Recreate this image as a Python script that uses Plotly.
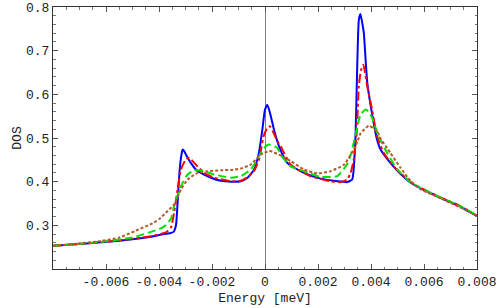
import plotly.graph_objects as go

# ---- data ----
blue_E = [-0.008, -0.0073, -0.0062, -0.005, -0.0043, -0.0039, -0.0036, -0.00345, -0.00336, -0.0033,
          -0.00323, -0.00317, -0.00311, -0.00305, -0.00299, -0.0028, -0.00261, -0.00242, -0.00204,
          -0.00167, -0.00129, -0.00092, -0.00066, -0.00041, -0.00023, -0.0001, 0.0, 0.00009, 0.00019,
          0.00034, 0.00053, 0.00084, 0.00147, 0.0021, 0.00273, 0.0031, 0.00329, 0.00335, 0.00338,
          0.00342, 0.00348, 0.00354, 0.0036, 0.00368, 0.00373, 0.00386, 0.0041, 0.00423, 0.00436,
          0.00473, 0.00511, 0.00549, 0.00586, 0.00662, 0.00737, 0.008]
blue_D = [0.253, 0.256, 0.261, 0.268, 0.274, 0.279, 0.282, 0.285, 0.30, 0.35,
          0.42, 0.455, 0.4735, 0.47, 0.463, 0.443, 0.428, 0.42, 0.409,
          0.402, 0.400, 0.401, 0.409, 0.428, 0.466, 0.519, 0.565, 0.5756, 0.557,
          0.519, 0.481, 0.443, 0.420, 0.407, 0.401, 0.399, 0.405, 0.43, 0.46,
          0.512, 0.664, 0.77, 0.784, 0.76, 0.74, 0.626, 0.535, 0.496, 0.4735,
          0.443, 0.418, 0.398, 0.385, 0.363, 0.343, 0.321]

red_E = [-0.008, -0.0073, -0.0062, -0.005, -0.0043, -0.0039, -0.00374, -0.00355, -0.00343, -0.0033,
         -0.00317, -0.00299, -0.00286, -0.00261, -0.0023, -0.00192, -0.00129, -0.00092, -0.00066,
         -0.00041, -0.00023, -0.00016, -0.00005, 0.00008, 0.00018, 0.0003, 0.00047, 0.00059, 0.00097,
         0.00172, 0.00247, 0.00285, 0.0031, 0.00323, 0.00335, 0.00346, 0.00354, 0.00362, 0.00371,
         0.00386, 0.00404, 0.00423, 0.00448, 0.00486, 0.00511, 0.00549, 0.00586, 0.00662, 0.00737, 0.008]
red_D = [0.253, 0.256, 0.261, 0.269, 0.275, 0.281, 0.284, 0.295, 0.329, 0.382,
         0.428, 0.451, 0.4545, 0.439, 0.42, 0.409, 0.401, 0.402, 0.41,
         0.425, 0.45, 0.47, 0.505, 0.522, 0.527, 0.515, 0.4925, 0.481, 0.439,
         0.4125, 0.401, 0.399, 0.405, 0.42, 0.4507, 0.512, 0.618, 0.655, 0.6675,
         0.618, 0.565, 0.504, 0.466, 0.435, 0.42, 0.399, 0.386, 0.364, 0.344, 0.322]

green_E = [-0.008, -0.0073, -0.0062, -0.005, -0.0043, -0.00393, -0.00374, -0.00355, -0.00343, -0.00317,
           -0.00292, -0.00267, -0.0023, -0.00192, -0.00129, -0.00092, -0.00054, -0.00041, -0.00016,
           0.00003, 0.00015, 0.00047, 0.00059, 0.00097, 0.00147, 0.0021, 0.00273, 0.00298, 0.0031,
           0.00323, 0.00335, 0.00348, 0.0036, 0.00379, 0.00392, 0.00404, 0.00429, 0.00461, 0.00499,
           0.00549, 0.00586, 0.00662, 0.00737, 0.008]
green_D = [0.253, 0.256, 0.262, 0.272, 0.285, 0.293, 0.301, 0.315, 0.344, 0.39,
           0.4165, 0.426, 0.424, 0.4165, 0.409, 0.4125, 0.428, 0.439, 0.465,
           0.481, 0.485, 0.477, 0.462, 0.435, 0.424, 0.411, 0.4125, 0.43, 0.44,
           0.46, 0.49, 0.525, 0.553, 0.565, 0.56, 0.546, 0.504, 0.466, 0.428,
           0.399, 0.386, 0.364, 0.344, 0.322]

brown_E = [-0.008, -0.0073, -0.0062, -0.0055, -0.0049, -0.0042, -0.00398, -0.00374, -0.00343, -0.00317,
           -0.00292, -0.00254, -0.00217, -0.00167, -0.00129, -0.00092, -0.00054, -0.00016, 0.00015,
           0.00021, 0.00059, 0.00097, 0.00147, 0.00197, 0.00247, 0.00298, 0.00335, 0.00354, 0.0036,
           0.00392, 0.00423, 0.00436, 0.00473, 0.00511, 0.00549, 0.00586, 0.00662, 0.00737, 0.008]
brown_D = [0.253, 0.257, 0.264, 0.272, 0.287, 0.306, 0.315, 0.329, 0.348, 0.382,
           0.405, 0.42, 0.424, 0.426, 0.427, 0.43, 0.439, 0.462, 0.47,
           0.47, 0.46, 0.447, 0.428, 0.419, 0.424, 0.439, 0.4735, 0.50, 0.51,
           0.528, 0.515, 0.499, 0.466, 0.432, 0.402, 0.383, 0.362, 0.341, 0.322]

x_tickvals = [-0.006, -0.004, -0.002, 0, 0.002, 0.004, 0.006, 0.008]
x_ticktext = ["-0.006", "-0.004", "-0.002", "0", "0.002", "0.004", "0.006", "0.008"]
y_tickvals = [0.3, 0.4, 0.5, 0.6, 0.7, 0.8]
y_ticktext = ["0.3", "0.4", "0.5", "0.6", "0.7", "0.8"]

FONT = "Liberation Mono"

fig = go.Figure()
series = [
    (blue_E, blue_D, "#0000FF", "solid"),
    (red_E, red_D, "#FF0000", "dashdot"),
    (green_E, green_D, "#00E000", "8px,4px"),
    (brown_E, brown_D, "#B35A2A", "3px,2px"),
]
for E, D, c, d in series:
    fig.add_trace(go.Scatter(x=E, y=D, mode="lines",
                             line=dict(color=c, width=2, dash=d, shape="spline", smoothing=0.5),
                             hoverinfo="skip"))

axis_common = dict(
    showgrid=False, showline=True, linecolor="#333333", linewidth=1, mirror="ticks",
    ticks="inside", ticklen=5, tickcolor="#555555", tickwidth=1, automargin=False,
    tickfont=dict(family=FONT, size=13, color="#222222"),
)
fig.update_xaxes(range=[-0.008, 0.008], tickvals=x_tickvals, ticktext=x_ticktext,
                 zeroline=True, zerolinecolor="#808080", zerolinewidth=1,
                 minor=dict(dtick=0.0005, tick0=0, ticks="inside", ticklen=2.5, tickcolor="#777777"),
                 title=dict(text="Energy [meV]", font=dict(family=FONT, size=13, color="#222222"), standoff=4),
                 **axis_common)
fig.update_yaxes(range=[0.2, 0.8], tickvals=y_tickvals, ticktext=y_ticktext, zeroline=False,
                 minor=dict(dtick=0.02, tick0=0.2, ticks="inside", ticklen=2.5, tickcolor="#777777"),
                 title=dict(text="DOS", font=dict(family=FONT, size=13, color="#222222"), standoff=1),
                 **axis_common)
fig.update_layout(width=498, height=308, margin=dict(l=53, r=21, t=7, b=39),
                  plot_bgcolor="white", paper_bgcolor="white", showlegend=False)
# remove the default page margin so the figure fills the 498x308 window exactly
fig.write_html("out.html", config={"displayModeBar": False, "staticPlot": True},
               post_script="document.body.style.margin='0px';")
